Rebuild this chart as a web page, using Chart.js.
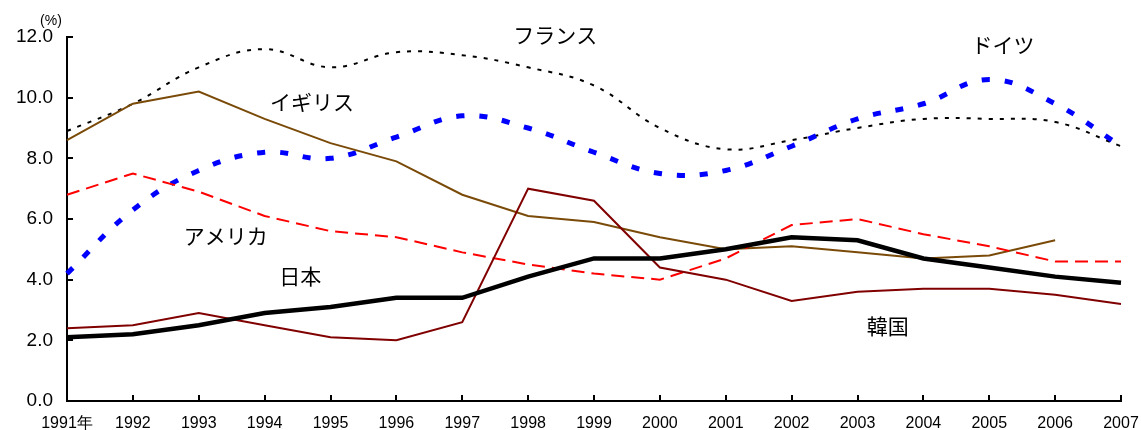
<!DOCTYPE html>
<html>
<head>
<meta charset="utf-8">
<script src="https://cdn.jsdelivr.net/npm/chart.js@4.4.1/dist/chart.umd.min.js"></script>
<style>
html,body{margin:0;padding:0;background:#fff;}
#wrap{width:1141px;height:430px;position:relative;}
</style>
</head>
<body>
<div id="wrap"><canvas id="c" width="1141" height="430"></canvas></div>
<script>
const years = ["1991年","1992","1993","1994","1995","1996","1997","1998","1999","2000","2001","2002","2003","2004","2005","2006","2007"];
const france  = [8.9, 9.8, 11.0, 11.6, 11.0, 11.5, 11.4, 11.0, 10.4, 9.0, 8.3, 8.6, 9.0, 9.3, 9.3, 9.2, 8.4];
const germany = [4.2, 6.3, 7.6, 8.2, 8.0, 8.7, 9.4, 9.0, 8.2, 7.5, 7.6, 8.4, 9.3, 9.8, 10.6, 9.8, 8.4];
const uk      = [8.6, 9.8, 10.2, 9.3, 8.5, 7.9, 6.8, 6.1, 5.9, 5.4, 5.0, 5.1, 4.9, 4.7, 4.8, 5.3, null];
const usa     = [6.8, 7.5, 6.9, 6.1, 5.6, 5.4, 4.9, 4.5, 4.2, 4.0, 4.7, 5.8, 6.0, 5.5, 5.1, 4.6, 4.6];
const japan   = [2.1, 2.2, 2.5, 2.9, 3.1, 3.4, 3.4, 4.1, 4.7, 4.7, 5.0, 5.4, 5.3, 4.7, 4.4, 4.1, 3.9];
const korea   = [2.4, 2.5, 2.9, 2.5, 2.1, 2.0, 2.6, 7.0, 6.6, 4.4, 4.0, 3.3, 3.6, 3.7, 3.7, 3.5, 3.2];
const yTicks  = [0, 2, 4, 6, 8, 10, 12];
const countryLabels = ["フランス","ドイツ","イギリス","アメリカ","日本","韓国"];
const labelAt = [[7.41, 12.07],[14.21, 11.74],[3.72, 9.85],[2.41, 5.45],[3.54, 4.13],[12.46, 2.48]];

const annotate = {
  id: 'annotate',
  afterDraw(chart) {
    const {ctx, scales:{x, y}, chartArea} = chart;
    ctx.save();
    // inward tick marks
    ctx.strokeStyle = '#000';
    ctx.lineWidth = 2;
    ctx.beginPath();
    x.ticks.forEach((t, i) => {
      const px = Math.round(x.getPixelForTick(i));
      ctx.moveTo(px, chartArea.bottom);
      ctx.lineTo(px, chartArea.bottom - 6);
    });
    y.ticks.forEach((t, i) => {
      const py = Math.round(y.getPixelForTick(i));
      ctx.moveTo(chartArea.left, py);
      ctx.lineTo(chartArea.left + 6, py);
    });
    ctx.stroke();
    // country labels
    ctx.fillStyle = '#000';
    ctx.textAlign = 'center';
    ctx.textBaseline = 'middle';
    ctx.font = '21px "Noto Sans CJK JP"';
    countryLabels.forEach((txt, i) => {
      ctx.fillText(txt, x.getPixelForValue(labelAt[i][0]), y.getPixelForValue(labelAt[i][1]));
    });
    // unit
    ctx.font = '14px "Liberation Sans", Arial, sans-serif';
    ctx.fillText('(%)', chartArea.left - 16, chartArea.top - 16);
    ctx.restore();
  }
};

new Chart(document.getElementById('c'), {
  type: 'line',
  data: {
    labels: years,
    datasets: [
      {label:'日本', data: japan, borderColor:'#000000', borderWidth:4.5, tension:0},
      {label:'韓国', data: korea, borderColor:'#800000', borderWidth:2, tension:0},
      {label:'アメリカ', data: usa, borderColor:'#ff0000', borderWidth:2, borderDash:[13,7], tension:0},
      {label:'イギリス', data: uk, borderColor:'#7a4a08', borderWidth:2, tension:0},
      {label:'ドイツ', data: germany, borderColor:'#0000ff', borderWidth:5, borderDash:[8,15], tension:0.4},
      {label:'フランス', data: france, borderColor:'#000000', borderWidth:2, borderDash:[4,7], tension:0.4}
    ]
  },
  options: {
    responsive: false,
    animation: false,
    devicePixelRatio: 1,
    elements: { point: { radius: 0, hoverRadius: 0 }, line: { fill: false, borderCapStyle: 'butt' } },
    layout: { padding: { top: 37, right: 20, left: 0, bottom: 0 } },
    plugins: { legend: { display: false }, tooltip: { enabled: false } },
    scales: {
      x: {
        offset: false,
        grid: { display: false, drawTicks: false },
        border: { display: true, color: '#000', width: 2 },
        ticks: { color: '#000', font: { family: '"Liberation Sans", Arial, sans-serif', size: 16 }, padding: 13, maxRotation: 0, autoSkip: false },
        afterFit(s) { s.height = 29; s.paddingLeft = 0; s.paddingRight = 0; }
      },
      y: {
        min: 0, max: 12,
        afterBuildTicks(s) { s.ticks = yTicks.map(v => ({value: v})); },
        grid: { display: false, drawTicks: false },
        border: { display: true, color: '#000', width: 2 },
        ticks: { color: '#000', font: { family: '"Liberation Sans", Arial, sans-serif', size: 19 }, padding: 14, callback: v => Number(v).toFixed(1) },
        afterFit(s) { s.width = 67; s.paddingTop = 0; s.paddingBottom = 0; }
      }
    }
  },
  plugins: [annotate]
});
</script>
</body>
</html>
